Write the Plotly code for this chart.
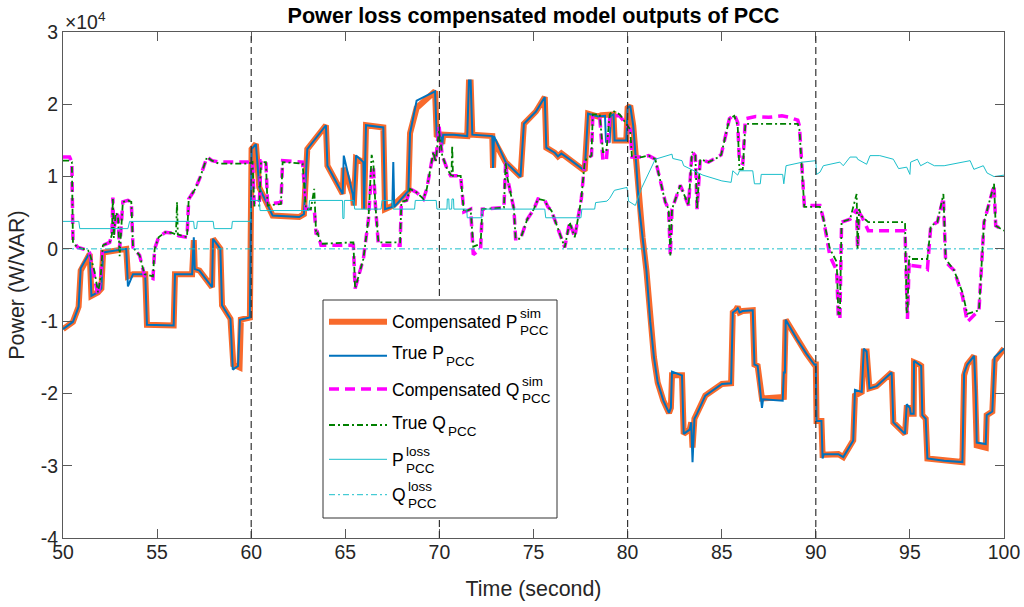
import plotly.graph_objects as go

# Values, power in units of 1e4 W / VAR
SCALE = 1e4

t_p_comp = [50.0, 50.53, 50.83, 50.94, 51.42, 51.51, 51.86, 52.04, 52.13, 53.36, 53.45, 53.72, 54.37, 54.46,
            55.88, 55.95, 56.86, 56.95, 57.0, 57.25, 57.92, 57.97, 58.36, 58.45, 58.9, 59.05, 59.38, 59.45,
            59.93, 60.02, 60.25, 60.43, 61.14, 62.55, 62.8, 62.98, 63.97, 64.05, 64.86, 64.92, 65.4, 65.45,
            65.57, 65.96, 66.0, 66.1, 67.02, 67.11, 67.55, 68.35, 68.44, 68.79, 69.77, 69.86, 70.06, 70.15,
            70.2, 70.77, 71.48, 71.57, 71.66, 71.75, 72.81, 72.85, 72.9, 73.52, 74.31, 74.49, 75.13, 75.6,
            75.68, 76.13, 76.3, 76.48, 77.01, 77.72, 77.9, 78.43, 78.6, 79.25, 79.31, 79.93, 80.0, 80.14,
            80.3, 80.45, 80.6, 80.8, 81.0, 81.2, 81.4, 81.6, 81.9, 82.2, 82.3, 82.36, 82.89, 82.98, 83.3,
            83.38, 83.45, 83.55, 83.69, 84.13, 85.01, 85.5, 85.59, 85.75, 85.85, 85.95, 86.12, 86.65, 86.74,
            86.91, 87.14, 88.24, 88.3, 88.4, 89.0, 89.5, 89.92, 90.0, 90.04, 90.3, 90.36, 91.2, 91.46, 91.99,
            92.08, 92.44, 92.55, 92.7, 92.85, 93.23, 94.03, 94.12, 94.74, 94.83, 95.0, 95.04, 95.2, 95.22,
            95.49, 95.6, 95.66, 95.84, 95.93, 96.82, 97.79, 97.88, 98.05, 98.41, 98.5, 98.55, 99.03, 99.08,
            99.38, 99.5, 100.0]
p_comp = [-1.11, -1.01, -0.8, -0.3, -0.07, -0.65, -0.6, -0.55, -0.05, 0.0, -0.38, -0.35, -0.35, -1.05,
          -1.06, -0.35, -0.35, 0.12, -0.28, -0.3, -0.53, 0.14, 0.0, -0.78, -0.97, -1.6, -1.64, -0.98,
          -0.95, 1.38, 1.45, 0.85, 0.46, 0.44, 0.48, 1.38, 1.71, 1.15, 0.76, 1.12, 0.75, 0.6,
          1.25, 1.2, 0.55, 1.71, 1.68, 0.55, 0.6, 0.8, 1.6, 1.95, 2.18, 1.55, 1.6, 1.45,
          1.58, 1.58, 1.56, 2.3, 2.3, 1.58, 1.56, 1.12, 1.5, 1.2, 1.0, 1.73, 1.9, 2.1,
          1.4, 1.33, 1.28, 1.32, 1.22, 1.08, 1.87, 1.83, 1.85, 1.86, 1.5, 1.5, 1.95, 1.98,
          1.7, 1.2, 0.6, 0.15, -0.3, -1.0, -1.5, -1.85, -2.1, -2.27, -2.2, -1.75, -1.75, -2.56, -2.5,
          -2.4, -2.75, -2.35, -2.28, -2.03, -1.87, -1.86, -0.88, -0.85, -0.8, -0.88, -0.86, -0.85, -1.6,
          -1.62, -2.07, -2.07, -2.05, -0.98, -1.25, -1.45, -1.6, -1.6, -2.38, -2.38, -2.85, -2.84, -2.88, -2.65,
          -2.03, -1.98, -1.42, -1.42, -1.93, -1.9, -1.71, -2.4, -2.56, -2.2, -2.2, -2.28, -2.28, -1.57,
          -1.6, -1.62, -2.3, -2.35, -2.9, -2.93, -2.95, -1.75, -1.6, -1.48, -2.2, -2.72, -2.75, -2.3,
          -2.25, -1.55, -1.38]

t_p_true = [50.0, 50.53, 50.83, 50.94, 51.42, 51.51, 51.86, 52.04, 52.13, 53.36, 53.45, 53.72, 54.37, 54.46,
            55.88, 55.95, 56.86, 56.95, 57.0, 57.25, 57.92, 57.97, 58.36, 58.45, 58.9, 59.02, 59.3, 59.4,
            59.93, 60.02, 60.25, 60.43, 61.14, 62.55, 62.8, 62.98, 63.97, 64.05, 64.86, 64.92, 65.4, 65.45,
            65.57, 65.96, 66.0, 66.1, 67.02, 67.11, 67.5, 67.55, 67.6, 68.35, 68.44, 68.79, 69.77, 69.86,
            70.06, 70.15, 70.2, 70.77, 71.48, 71.57, 71.66, 71.75, 72.81, 72.85, 72.9, 73.52, 74.31, 74.49,
            75.13, 75.6, 75.68, 76.13, 76.3, 76.48, 77.01, 77.72, 77.9, 78.43, 78.8, 78.85, 79.05, 79.1,
            79.25, 79.31, 79.93, 80.0, 80.14, 80.3, 80.45, 80.6, 80.8, 81.0, 81.2, 81.4, 81.6, 81.9, 82.2,
            82.3, 82.36, 82.89, 82.98, 83.3, 83.38, 83.45, 83.55, 83.69, 84.13, 85.01, 85.5, 85.59, 85.75,
            85.85, 85.95, 86.12, 86.65, 86.74, 86.91, 87.14, 87.2, 88.24, 88.3, 88.36, 88.4, 89.0, 89.5,
            89.92, 90.0, 90.04, 90.3, 90.36, 90.42, 91.2, 91.46, 91.99, 92.08, 92.44, 92.55, 92.7, 92.85,
            93.23, 94.03, 94.12, 94.74, 94.83, 95.0, 95.04, 95.2, 95.22, 95.49, 95.6, 95.66, 95.84, 95.93,
            96.82, 97.79, 97.88, 98.05, 98.41, 98.5, 98.55, 99.03, 99.08, 99.38, 99.5, 100.0]
p_true = [-1.11, -1.01, -0.8, -0.27, -0.05, -0.65, -0.6, -0.55, -0.05, 0.0, -0.52, -0.35, -0.35, -1.05,
          -1.06, -0.35, -0.35, 0.16, -0.28, -0.3, -0.53, 0.14, 0.0, -0.78, -0.97, -1.67, -1.62, -0.98,
          -0.95, 1.38, 1.45, 0.85, 0.46, 0.44, 0.48, 1.38, 1.71, 1.15, 0.76, 1.29, 0.75, 0.6,
          1.29, 1.2, 0.55, 1.71, 1.68, 0.55, 0.58, 1.2, 0.58, 0.8, 1.6, 2.05, 2.18, 1.55,
          1.6, 1.42, 1.58, 1.58, 1.56, 2.33, 2.33, 1.58, 1.56, 1.12, 1.56, 1.2, 1.0, 1.73,
          1.9, 2.1, 1.4, 1.33, 1.28, 1.32, 1.22, 1.08, 1.87, 1.83, 1.84, 1.48, 1.48, 1.84,
          1.86, 1.5, 1.5, 1.95, 1.98, 1.7, 1.2, 0.6, 0.15, -0.3, -1.0, -1.5, -1.85, -2.1, -2.27,
          -2.2, -1.7, -1.75, -2.56, -2.5, -2.4, -2.95, -2.35, -2.28, -2.03, -1.87, -1.86, -0.88, -0.85,
          -0.82, -0.88, -0.86, -0.85, -1.6, -1.62, -2.2, -2.08, -2.1, -1.71, -1.71, -0.98, -1.25, -1.45,
          -1.6, -1.6, -2.38, -2.38, -2.9, -2.84, -2.84, -2.88, -2.65, -1.95, -1.98, -1.38, -1.42, -1.93,
          -1.9, -1.71, -2.4, -2.56, -2.15, -2.2, -2.28, -2.28, -1.55, -1.6, -1.62, -2.3, -2.35, -2.9,
          -2.93, -2.95, -1.72, -1.6, -1.48, -2.0, -2.68, -2.7, -2.3, -2.25, -1.5, -1.38]

t_q_comp = [50.0, 50.35, 50.47, 50.53, 50.79, 51.32, 51.41, 51.68, 51.86, 52.0, 52.12, 52.48, 52.6, 52.65,
            52.7, 52.8, 52.92, 53.01, 53.1, 53.18, 53.45, 53.63, 53.72, 54.07, 54.33, 54.78, 54.87, 55.08,
            55.44, 55.79, 56.15, 56.59, 56.68, 57.03, 57.3, 57.65, 57.92, 58.27, 59.87, 60.07, 60.16, 60.43,
            60.52, 60.78, 60.87, 61.58, 61.67, 62.73, 62.91, 63.17, 63.35, 63.45, 63.53, 63.71, 65.43, 65.52,
            65.96, 66.23, 66.4, 66.49, 66.6, 66.76, 66.93, 67.38, 67.91, 67.98, 68.26, 68.44, 68.79, 69.15,
            69.33, 69.68, 69.8, 69.98, 70.15, 70.42, 70.6, 70.86, 71.13, 71.3, 71.66, 71.8, 72.19, 72.28,
            73.43, 73.52, 73.6, 73.96, 74.05, 74.31, 74.67, 75.02, 75.24, 75.6, 75.77, 75.95, 76.3, 76.66,
            76.92, 77.19, 77.54, 77.72, 77.81, 78.08, 78.15, 78.52, 78.69, 78.87, 79.05, 79.23, 79.58, 79.93,
            80.14, 80.23, 80.76, 81.12, 81.47, 82.0, 82.18, 82.27, 82.36, 82.8, 83.24, 83.42, 83.6, 83.69,
            83.86, 84.3, 84.84, 84.97, 85.41, 85.67, 85.85, 85.94, 86.12, 86.26, 86.8, 87.5, 88.2, 88.6,
            89.04, 89.13, 89.39, 90.22, 90.4, 90.75, 91.11, 91.2, 91.28, 91.37, 91.82, 92.17, 92.22, 92.3,
            92.44, 92.79, 94.74, 94.83, 94.87, 94.96, 95.04, 95.75, 95.93, 96.11, 96.46, 96.78, 96.9, 97.35,
            97.79, 98.05, 98.67, 98.94, 99.47, 99.56, 100.0]
q_comp = [1.27, 1.27, 1.2, 0.1, 0.02, -0.02, -0.05, -0.4, -0.65, -0.4, 0.05, 0.09, 0.2, 0.71,
          0.2, 0.5, 0.46, 0.0, 0.3, 0.65, 0.67, 0.65, 0.02, -0.09, -0.37, -0.41, 0.0, 0.16,
          0.23, 0.22, 0.18, 0.16, 0.69, 0.83, 1.0, 1.27, 1.22, 1.2, 1.2, 1.22, 0.62, 0.62,
          1.22, 1.22, 0.62, 0.64, 1.22, 1.2, 0.55, 0.55, 0.55, 0.2, 0.22, 0.05, 0.05, -0.55,
          -0.14, 0.41, 1.1, 1.15, 0.6, 0.05, 0.05, 0.05, 0.05, 0.65, 0.67, 0.83, 0.78, 0.69,
          0.83, 1.34, 1.2, 1.7, 1.29, 1.1, 1.01, 1.01, 1.01, 0.51, 0.55, -0.08, 0.0, 0.55,
          0.57, 1.2, 1.0, 0.55, 0.14, 0.14, 0.41, 0.55, 0.69, 0.67, 0.58, 0.53, 0.28, 0.02,
          0.37, 0.16, 0.69, 1.2, 1.24, 1.29, 1.82, 1.82, 1.22, 1.22, 1.82, 1.84, 1.84, 1.72,
          1.65, 1.27, 1.27, 1.29, 1.24, 0.65, 0.55, -0.09, 0.55, 0.88, 0.6, 1.34, 1.29, 0.55,
          1.24, 1.2, 1.27, 1.3, 1.8, 1.86, 1.75, 1.2, 1.18, 1.8, 1.83, 1.82, 1.84, 1.82,
          1.78, 1.7, 0.6, 0.6, 0.42, -0.1, -0.3, -0.97, -0.97, 0.37, 0.41, 0.55, 0.0, 0.5,
          0.45, 0.25, 0.25, -0.97, -0.97, -0.18, -0.23, -0.25, -0.28, 0.32, 0.37, 0.71, -0.18, -0.3,
          -0.65, -1.01, -0.85, 0.37, 0.88, 0.32, 0.25]

t_q_true = [50.0, 50.35, 50.47, 50.53, 50.79, 51.32, 51.41, 51.68, 51.86, 52.0, 52.12, 52.48, 52.6, 52.65,
            52.7, 52.8, 52.92, 53.01, 53.1, 53.18, 53.45, 53.63, 53.72, 54.07, 54.33, 54.78, 54.87, 55.08,
            55.44, 55.79, 56.0, 56.06, 56.1, 56.59, 56.68, 57.03, 57.3, 57.65, 57.92, 58.27, 59.87, 60.07,
            60.16, 60.43, 60.52, 60.78, 60.87, 61.58, 61.67, 62.73, 62.91, 63.17, 63.35, 63.45, 63.53, 63.71,
            65.43, 65.52, 65.96, 66.23, 66.4, 66.49, 66.6, 66.76, 66.93, 67.38, 67.91, 67.98, 68.26, 68.44,
            68.79, 69.15, 69.33, 69.68, 69.8, 69.98, 70.15, 70.42, 70.6, 70.64, 70.68, 70.72, 71.13, 71.3,
            71.66, 71.8, 72.19, 72.28, 73.43, 73.52, 73.6, 73.96, 74.05, 74.31, 74.67, 75.02, 75.24, 75.6,
            75.77, 75.95, 76.3, 76.66, 76.92, 77.19, 77.54, 77.72, 77.81, 78.08, 78.15, 78.52, 78.69, 78.87,
            79.05, 79.23, 79.58, 79.93, 80.14, 80.23, 80.76, 81.12, 81.47, 82.0, 82.18, 82.27, 82.36, 82.8,
            83.24, 83.42, 83.6, 83.69, 83.86, 84.3, 84.84, 84.97, 85.41, 85.67, 85.85, 85.94, 86.12, 86.26,
            89.04, 89.13, 89.39, 90.22, 90.4, 90.75, 91.11, 91.2, 91.28, 91.37, 91.82, 92.17, 92.22, 92.3,
            92.44, 92.79, 94.74, 94.83, 94.87, 94.96, 95.04, 95.93, 96.11, 96.46, 96.78, 96.9, 97.35, 97.79,
            98.05, 98.67, 98.94, 99.47, 99.56, 100.0]
q_true = [1.22, 1.22, 1.2, 0.08, 0.02, -0.02, -0.05, -0.32, -0.6, -0.4, 0.05, 0.09, 0.2, 0.71,
          0.15, 0.5, 0.46, -0.1, 0.3, 0.65, 0.67, 0.65, 0.02, -0.09, -0.35, -0.38, 0.0, 0.16,
          0.23, 0.22, 0.2, 0.65, 0.2, 0.16, 0.69, 0.83, 1.0, 1.27, 1.22, 1.18, 1.18, 1.2,
          0.6, 0.6, 1.2, 1.2, 0.6, 0.62, 1.2, 1.18, 0.55, 0.55, 0.83, 0.2, 0.22, 0.07,
          0.09, -0.55, -0.14, 0.41, 1.3, 1.2, 0.6, 0.09, 0.09, 0.09, 0.09, 0.65, 0.67, 0.83,
          0.78, 0.69, 0.83, 1.34, 1.2, 1.65, 1.29, 1.1, 1.01, 1.01, 1.43, 1.01, 1.01, 0.51,
          0.55, 0.03, 0.07, 0.55, 0.57, 1.2, 1.0, 0.55, 0.14, 0.14, 0.41, 0.55, 0.69, 0.67,
          0.58, 0.53, 0.28, 0.02, 0.37, 0.16, 0.69, 1.2, 1.24, 1.29, 1.86, 1.86, 1.34, 1.34,
          1.86, 1.91, 1.86, 1.72, 1.65, 1.27, 1.27, 1.29, 1.24, 0.65, 0.55, -0.09, 0.55, 0.88,
          0.6, 1.34, 1.29, 0.55, 1.24, 1.2, 1.27, 1.3, 1.8, 1.84, 1.7, 1.1, 1.1, 1.73,
          1.73, 1.65, 0.58, 0.58, 0.42, 0.0, -0.18, -0.9, -0.9, 0.37, 0.41, 0.76, 0.0, 0.55,
          0.45, 0.37, 0.37, -0.9, -0.9, -0.1, -0.14, -0.14, 0.32, 0.37, 0.76, -0.14, -0.3, -0.6,
          -0.9, -0.85, 0.37, 0.9, 0.32, 0.25]

t_p_loss = [50.0, 50.84, 50.89, 53.45, 53.54, 56.94, 56.98, 57.1, 57.14, 57.98, 58.03, 58.96, 59.0, 59.95,
            60.0, 60.43, 60.47, 63.06, 63.1, 64.85, 64.87, 64.93, 64.95, 65.45, 65.5, 66.9, 66.95, 67.5,
            67.55, 68.68, 68.72, 69.83, 69.87, 70.4, 70.42, 70.5, 70.52, 70.65, 70.67, 70.75, 70.77, 71.45,
            71.48, 72.25, 72.28, 75.6, 75.65, 77.52, 77.57, 78.25, 78.3, 78.9, 79.05, 79.3, 79.97, 80.05,
            80.41, 80.76, 81.47, 82.36, 82.4, 82.89, 82.98, 84.0, 85.01, 85.5, 85.59, 85.85, 85.95, 86.65,
            86.74, 87.05, 87.1, 88.24, 88.3, 88.42, 89.3, 89.85, 90.0, 90.04, 90.22, 90.4, 91.28, 91.46,
            91.82, 92.17, 92.22, 92.7, 92.88, 93.4, 94.12, 94.4, 94.83, 95.0, 95.04, 95.4, 95.57, 95.93,
            96.3, 96.82, 97.88, 98.2, 98.4, 98.9, 99.1, 99.47, 100.0]
p_loss = [0.38, 0.38, 0.28, 0.28, 0.38, 0.38, 0.28, 0.28, 0.38, 0.38, 0.28, 0.28, 0.38, 0.38,
          0.67, 0.67, 0.53, 0.53, 0.67, 0.67, 0.42, 0.42, 0.67, 0.67, 0.55, 0.55, 0.67, 0.67,
          0.55, 0.55, 0.67, 0.67, 0.55, 0.55, 0.69, 0.69, 0.55, 0.55, 0.69, 0.69, 0.55, 0.55,
          0.43, 0.43, 0.55, 0.55, 0.43, 0.43, 0.55, 0.55, 0.64, 0.66, 0.7, 0.81, 0.85, 0.66,
          0.6, 0.85, 1.24, 1.31, 1.25, 1.22, 1.15, 1.02, 0.94, 0.92, 1.08, 1.02, 1.08, 1.08,
          0.9, 0.9, 1.03, 1.03, 0.9, 1.15, 1.2, 1.22, 1.22, 1.03, 1.06, 1.15, 1.2, 1.15,
          1.27, 1.27, 1.24, 1.17, 1.29, 1.29, 1.24, 1.11, 1.13, 1.03, 1.2, 1.24, 1.15, 1.2,
          1.15, 1.15, 1.2, 1.22, 1.1, 1.15, 1.05, 1.0, 1.02]

t_q_loss = [50.0, 100.0]
q_loss = [0.0, 0.0]

event_times = [60, 70, 80, 90]
x_ticks = [50, 55, 60, 65, 70, 75, 80, 85, 90, 95, 100]
y_ticks = [-4, -3, -2, -1, 0, 1, 2, 3]

W, H = 1024, 607
# Axes box in window pixels: x 63..1004, y 32..538
AX_L, AX_R, AX_T, AX_B = 63, 1004, 32, 538
PW, PH = AX_R - AX_L, AX_B - AX_T


def px(x):
    return (x - AX_L) / PW


def py(y):
    return (AX_B - y) / PH


FONT = "Liberation Sans, Arial, Helvetica, sans-serif"
TXT = "#262626"
ORANGE = "#F86A2C"
BLUE = "#0072BD"
MAGENTA = "#FF00FF"
GREEN = "#008000"
CYAN = "#1BBFCB"
DASHDOT = "6px,3px,2px,3px"
AX_SIZE = 19.4
LEG_SIZE = 17.5
SUB_SIZE = 13.5

series = [
    (t_p_comp, p_comp, dict(color=ORANGE, width=6)),
    (t_p_true, p_true, dict(color=BLUE, width=2)),
    (t_q_comp, q_comp, dict(color=MAGENTA, width=3.5, dash="10px,6px")),
    (t_q_true, q_true, dict(color=GREEN, width=1.8, dash=DASHDOT)),
    (t_p_loss, p_loss, dict(color=CYAN, width=1)),
    (t_q_loss, q_loss, dict(color=CYAN, width=1, dash=DASHDOT)),
]

fig = go.Figure()
for tx, vals, line in series:
    fig.add_trace(go.Scatter(x=tx, y=[v * SCALE for v in vals], mode="lines", line=line,
                             showlegend=False, hoverinfo="skip"))

# Dashed event markers
for te in event_times:
    fig.add_shape(type="line", xref="x", yref="paper", x0=te, x1=te, y0=0, y1=1,
                  line=dict(color="#333333", width=1.2, dash="7px,4px"))

# Hand-built legend so sub/superscripts stack like the original
fig.add_shape(type="rect", xref="paper", yref="paper", x0=px(323), x1=px(557), y0=py(518), y1=py(300),
              fillcolor="white", line=dict(color="#333333", width=1))

legend_rows = [
    # line y, main text, sup, sub, x of sup/sub, line style
    (321.7, "Compensated P", "sim", "PCC", 519.3, dict(color=ORANGE, width=6)),
    (355.7, "True P", None, "PCC", 445.0, dict(color=BLUE, width=2)),
    (389.0, "Compensated Q", "sim", "PCC", 520.7, dict(color=MAGENTA, width=3.5, dash="10px,6px")),
    (425.0, "True Q", None, "PCC", 447.3, dict(color=GREEN, width=1.8, dash=DASHDOT)),
    (459.3, "P", "loss", "PCC", 405.0, dict(color=CYAN, width=1)),
    (494.7, "Q", "loss", "PCC", 406.7, dict(color=CYAN, width=1, dash=DASHDOT)),
]
for ly, main, sup, sub, sx, line in legend_rows:
    fig.add_shape(type="line", xref="paper", yref="paper", x0=px(329), x1=px(387), y0=py(ly), y1=py(ly),
                  line=line)
    my = ly + 0.6 if sup else ly - 2.5
    fig.add_annotation(text=main, x=px(391), y=py(my), xref="paper", yref="paper", xanchor="left",
                       yanchor="middle", showarrow=False, borderpad=0,
                       font=dict(size=LEG_SIZE, color="black", family=FONT))
    if sup:
        fig.add_annotation(text=sup, x=px(sx), y=py(my - 8.5), xref="paper", yref="paper",
                           xanchor="left", yanchor="middle", showarrow=False, borderpad=0,
                           font=dict(size=SUB_SIZE, color="black", family=FONT))
    fig.add_annotation(text=sub, x=px(sx), y=py(my + 8.5), xref="paper", yref="paper",
                       xanchor="left", yanchor="middle", showarrow=False, borderpad=0,
                       font=dict(size=SUB_SIZE, color="black", family=FONT))

# Exponent label
fig.add_annotation(text="\u00d710<sup>4</sup>", x=px(64), y=py(21), xref="paper", yref="paper",
                   xanchor="left", yanchor="middle", showarrow=False, borderpad=0,
                   font=dict(size=AX_SIZE, color=TXT, family=FONT))

axis_common = dict(showgrid=False, zeroline=False, showline=True, linecolor="#595959", linewidth=1,
                   mirror="ticks", ticks="inside", ticklen=9, tickcolor="#595959", automargin=False,
                   tickfont=dict(size=AX_SIZE, color=TXT, family=FONT))

fig.update_layout(
    width=W, height=H,
    margin=dict(l=AX_L, r=W - AX_R, t=AX_T, b=H - AX_B, autoexpand=False),
    paper_bgcolor="white", plot_bgcolor="white",
    font=dict(family=FONT, color=TXT),
    title=dict(text="<b>Power loss compensated model outputs of PCC</b>", x=0.5, xref="paper",
               y=1 - 15 / H, yref="container", yanchor="middle", xanchor="center", automargin=False,
               font=dict(size=21.6, color="black", family=FONT)),
    xaxis=dict(range=[50, 100], tickvals=x_ticks, ticktext=[str(v) for v in x_ticks],
               ticklabelstandoff=-3,
               title=dict(text="Time (second)", font=dict(size=21.4, color=TXT, family=FONT), standoff=18),
               **axis_common),
    yaxis=dict(range=[y_ticks[0] * SCALE, y_ticks[-1] * SCALE], tickvals=[v * SCALE for v in y_ticks],
               ticktext=[str(v) for v in y_ticks],
               title=dict(text="Power (W/VAR)", font=dict(size=21.4, color=TXT, family=FONT), standoff=10),
               **axis_common),
)

# Drop the default 8px page margin so the figure sits at the window corner
fig.write_html("out.html", config={"displayModeBar": False},
               post_script="document.body.style.margin='0';")
